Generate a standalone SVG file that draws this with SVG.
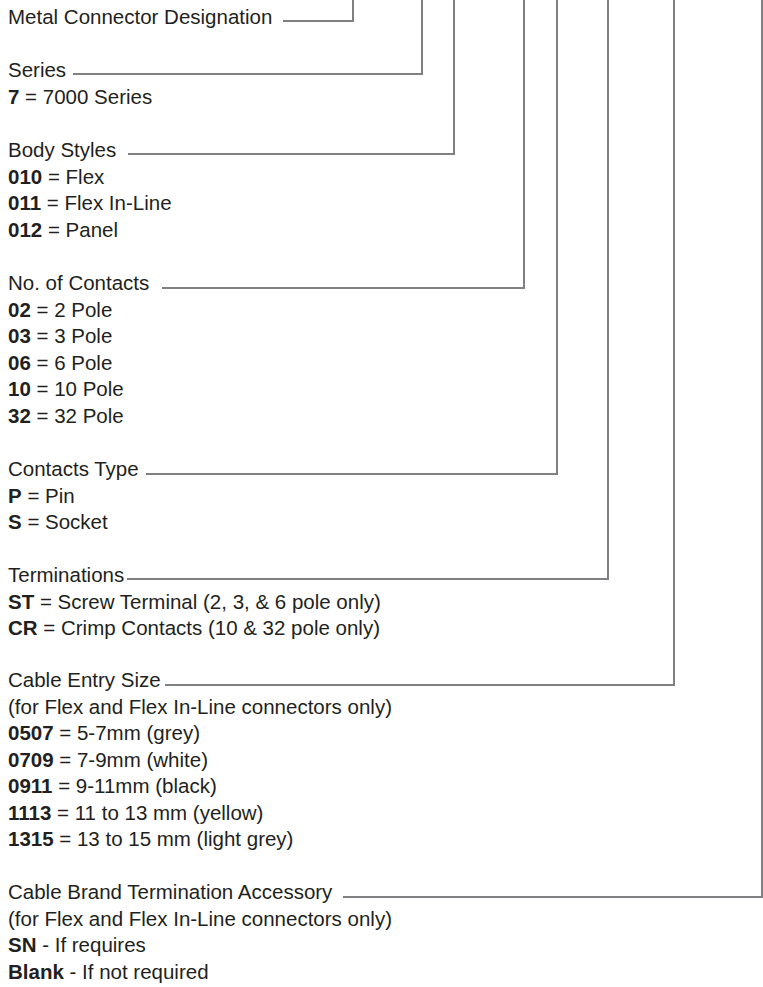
<svg xmlns="http://www.w3.org/2000/svg" width="763" height="987" viewBox="0 0 763 987">
<style>
text{font-family:"Liberation Sans",Arial,Helvetica,sans-serif;font-size:20.5px;fill:#231f20}
.b{font-weight:bold}
.c{fill:none;stroke:#808084;stroke-width:2;stroke-linejoin:miter}
</style>
<rect width="763" height="987" fill="#ffffff"/>
<g id="connectors">
<path class="c" d="M283,21 H353 V0"/>
<path class="c" d="M73,74 H422 V0"/>
<path class="c" d="M128,154 H454 V0"/>
<path class="c" d="M162,288 H524 V0"/>
<path class="c" d="M146,474 H557 V0"/>
<path class="c" d="M127,579 H608 V0"/>
<path class="c" d="M165,685 H674 V0"/>
<path class="c" d="M343,897 H762 V0"/>
</g>
<g id="designation">
<text x="8" y="24">Metal Connector Designation</text>
</g>
<g id="series">
<text x="8" y="77">Series</text>
<text x="8" y="104"><tspan class="b">7</tspan> = 7000 Series</text>
</g>
<g id="body-styles">
<text x="8" y="157">Body Styles</text>
<text x="8" y="184"><tspan class="b">010</tspan> = Flex</text>
<text x="8" y="210"><tspan class="b">011</tspan> = Flex In-Line</text>
<text x="8" y="237"><tspan class="b">012</tspan> = Panel</text>
</g>
<g id="contacts">
<text x="8" y="290">No. of Contacts</text>
<text x="8" y="317"><tspan class="b">02</tspan> = 2 Pole</text>
<text x="8" y="343"><tspan class="b">03</tspan> = 3 Pole</text>
<text x="8" y="370"><tspan class="b">06</tspan> = 6 Pole</text>
<text x="8" y="396"><tspan class="b">10</tspan> = 10 Pole</text>
<text x="8" y="423"><tspan class="b">32</tspan> = 32 Pole</text>
</g>
<g id="contacts-type">
<text x="8" y="476">Contacts Type</text>
<text x="8" y="503"><tspan class="b">P</tspan> = Pin</text>
<text x="8" y="529"><tspan class="b">S</tspan> = Socket</text>
</g>
<g id="terminations">
<text x="8" y="582">Terminations</text>
<text x="8" y="609"><tspan class="b">ST</tspan> = Screw Terminal (2, 3, &amp; 6 pole only)</text>
<text x="8" y="635"><tspan class="b">CR</tspan> = Crimp Contacts (10 &amp; 32 pole only)</text>
</g>
<g id="cable-entry">
<text x="8" y="687">Cable Entry Size</text>
<text x="8" y="714">(for Flex and Flex In-Line connectors only)</text>
<text x="8" y="740"><tspan class="b">0507</tspan> = 5-7mm (grey)</text>
<text x="8" y="767"><tspan class="b">0709</tspan> = 7-9mm (white)</text>
<text x="8" y="793"><tspan class="b">0911</tspan> = 9-11mm (black)</text>
<text x="8" y="820"><tspan class="b">1113</tspan> = 11 to 13 mm (yellow)</text>
<text x="8" y="846"><tspan class="b">1315</tspan> = 13 to 15 mm (light grey)</text>
</g>
<g id="cable-brand">
<text x="8" y="899">Cable Brand Termination Accessory</text>
<text x="8" y="926">(for Flex and Flex In-Line connectors only)</text>
<text x="8" y="952"><tspan class="b">SN</tspan> - If requires</text>
<text x="8" y="979"><tspan class="b">Blank</tspan> - If not required</text>
</g>
</svg>
